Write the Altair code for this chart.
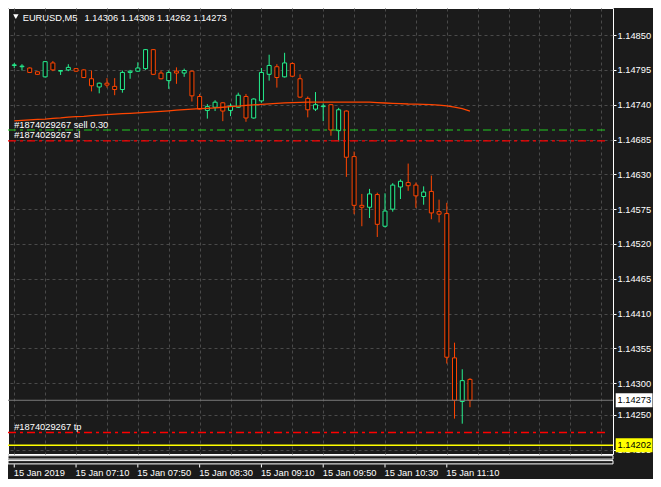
import altair as alt
import pandas as pd

# ---------------- data ----------------
symbol = "EURUSD,M5"
bar_index = list(range(60))
opens = [1.14802, 1.14800, 1.14798, 1.14792, 1.14784, 1.14806, 1.14793, 1.14795, 1.14797, 1.14795,
         1.14781, 1.14768, 1.14774, 1.14769, 1.14764, 1.14791, 1.14793, 1.14797, 1.14827, 1.14790,
         1.14778, 1.14793, 1.14790, 1.14793, 1.14753, 1.14731, 1.14736, 1.14743, 1.14731, 1.14736,
         1.14753, 1.14719, 1.14746, 1.14788, 1.14800, 1.14784, 1.14805, 1.14781, 1.14750, 1.14733,
         1.14737, 1.14740, 1.14699, 1.14730, 1.14658, 1.14581, 1.14578, 1.14598, 1.14548, 1.14575,
         1.14610, 1.14617, 1.14613, 1.14595, 1.14603, 1.14571, 1.14568, 1.14340, 1.14271, 1.14306]
highs = [1.14806, 1.14804, 1.14799, 1.14792, 1.14809, 1.14809, 1.14794, 1.14804, 1.14798, 1.14796,
         1.14794, 1.14775, 1.14782, 1.14782, 1.14794, 1.14795, 1.14807, 1.14828, 1.14828, 1.14794,
         1.14794, 1.14799, 1.14797, 1.14794, 1.14757, 1.14741, 1.14747, 1.14744, 1.14742, 1.14759,
         1.14757, 1.14750, 1.14798, 1.14819, 1.14804, 1.14822, 1.14807, 1.14788, 1.14753, 1.14760,
         1.14742, 1.14741, 1.14735, 1.14731, 1.14666, 1.14599, 1.14607, 1.14601, 1.14600, 1.14616,
         1.14622, 1.14647, 1.14617, 1.14611, 1.14628, 1.14590, 1.14585, 1.14364, 1.14322, 1.14308]
lows = [1.14798, 1.14794, 1.14790, 1.14787, 1.14783, 1.14793, 1.14787, 1.14793, 1.14792, 1.14782,
        1.14761, 1.14758, 1.14767, 1.14755, 1.14759, 1.14781, 1.14792, 1.14795, 1.14787, 1.14780,
        1.14765, 1.14773, 1.14784, 1.14745, 1.14732, 1.14718, 1.14730, 1.14714, 1.14722, 1.14735,
        1.14713, 1.14718, 1.14743, 1.14778, 1.14767, 1.14783, 1.14784, 1.14751, 1.14720, 1.14730,
        1.14714, 1.14691, 1.14682, 1.14626, 1.14567, 1.14548, 1.14561, 1.14531, 1.14546, 1.14571,
        1.14591, 1.14604, 1.14577, 1.14582, 1.14559, 1.14554, 1.14331, 1.14244, 1.14236, 1.14262]
closes = [1.14803, 1.14801, 1.14791, 1.14788, 1.14808, 1.14795, 1.14794, 1.14799, 1.14793, 1.14783,
          1.14770, 1.14774, 1.14771, 1.14764, 1.14791, 1.14793, 1.14798, 1.14827, 1.14788, 1.14781,
          1.14791, 1.14790, 1.14794, 1.14754, 1.14733, 1.14737, 1.14744, 1.14730, 1.14738, 1.14755,
          1.14719, 1.14749, 1.14791, 1.14802, 1.14783, 1.14806, 1.14785, 1.14752, 1.14732, 1.14740,
          1.14738, 1.14700, 1.14732, 1.14657, 1.14581, 1.14578, 1.14599, 1.14551, 1.14572, 1.14613,
          1.14619, 1.14612, 1.14596, 1.14602, 1.14569, 1.14567, 1.14341, 1.14273, 1.14304, 1.14273]
ma_values = [1.147145, 1.147152, 1.147160, 1.147168, 1.147173, 1.147183, 1.147191, 1.147203, 1.147211, 1.147217,
             1.147227, 1.147234, 1.147242, 1.147250, 1.147258, 1.147264, 1.147270, 1.147278, 1.147286, 1.147295,
             1.147304, 1.147313, 1.147323, 1.147331, 1.147337, 1.147343, 1.147351, 1.147360, 1.147369, 1.147379,
             1.147388, 1.147396, 1.147406, 1.147413, 1.147422, 1.147428, 1.147433, 1.147437, 1.147441, 1.147442,
             1.147442, 1.147442, 1.147442, 1.147442, 1.147442, 1.147442, 1.147441, 1.147434, 1.147427, 1.147422,
             1.147416, 1.147411, 1.147410, 1.147406, 1.147400, 1.147392, 1.147380, 1.147362, 1.147337, 1.147300]
time_label_bars = [0, 8, 16, 24, 32, 40, 48, 56]
time_labels = ["15 Jan 2019", "15 Jan 07:10", "15 Jan 07:50", "15 Jan 08:30",
               "15 Jan 09:10", "15 Jan 09:50", "15 Jan 10:30", "15 Jan 11:10"]
price_ticks = [1.14850, 1.14795, 1.14740, 1.14685, 1.14630, 1.14575, 1.14520,
               1.14465, 1.14410, 1.14355, 1.14300, 1.14250, 1.14195]
grid_bars = list(range(0, 80, 4))
order_id = "#1874029267"
order_open = 1.14700
order_sl = 1.14683
order_tp = 1.14222
hline_price = 1.14202
bid_price = 1.14273

# ---------------- style ----------------
BG = "#1b1b1b"
GRID = "#4a4a4a"
GREEN = "#25f08f"
RED = "#ff4500"
FONT = "Liberation Sans"
FS = 9.3
W, H = 605, 446          # plot frame
PAD_R, PAD_B = 40, 25    # room for price scale and time scale

xs = alt.Scale(domain=[-0.1625, 76.87], nice=False, zero=False)
ys = alt.Scale(domain=[1.141881, 1.148928], nice=False, zero=False)
x_axis = alt.Axis(values=grid_bars, grid=True, gridDash=[3, 3], gridColor=GRID, gridWidth=1,
                  labels=False, ticks=False, domain=False, title=None)
y_axis = alt.Axis(orient="right", values=price_ticks, format=".5f", grid=True, gridDash=[3, 3],
                  gridColor=GRID, gridWidth=1, tickColor="white", tickSize=3, labelPadding=1,
                  labelColor="white", labelFont=FONT, labelFontSize=FS, domain=False, title=None,
                  labelFlush=False, labelOverlap=False)

df = pd.DataFrame({"i": bar_index, "open": opens, "high": highs, "low": lows,
                   "close": closes, "ma": ma_values})
df["dir"] = ["up" if c >= o else "down" for o, c in zip(opens, closes)]
color_scale = alt.Scale(domain=["up", "down"], range=[GREEN, RED])

X = alt.X("i:Q", scale=xs, axis=x_axis)

wicks = alt.Chart(df).mark_rule(strokeWidth=1).encode(
    x=X,
    y=alt.Y("low:Q", scale=ys, axis=y_axis),
    y2="high:Q",
    color=alt.Color("dir:N", scale=color_scale, legend=None),
)
bodies = alt.Chart(df).mark_bar(width=4, strokeWidth=1).encode(
    x=X,
    y=alt.Y("open:Q", scale=ys, axis=y_axis),
    y2="close:Q",
    stroke=alt.Stroke("dir:N", scale=color_scale, legend=None),
    fill=alt.value("#0e0e0e"),
)
ma_line = alt.Chart(df).mark_line(color=RED, strokeWidth=1.3).encode(
    x=X, y=alt.Y("ma:Q", scale=ys, axis=y_axis)
)

one = pd.DataFrame({"k": [0]})


def hline(price, color, width, dash=None, x2=W):
    d = pd.DataFrame({"p": [price]})
    kw = dict(color=color, strokeWidth=width)
    if dash is not None:
        kw["strokeDash"] = dash
    return alt.Chart(d).mark_rule(**kw).encode(
        x=alt.value(0), x2=alt.value(x2), y=alt.Y("p:Q", scale=ys, axis=y_axis)
    )


open_line = hline(order_open, "#22cc22", 1.2, [8, 4, 3, 4], 598.8)
sl_line = hline(order_sl, "#ff0000", 1.2, [8, 4, 3, 4], 598.8)
tp_line = hline(order_tp, "#ff0000", 1.6, [8, 4, 3, 4], 598.8)
bid_line = hline(bid_price, "#7a7a7a", 1)
yellow_line = hline(hline_price, "#ffff00", 1.6)

lbl_df = pd.DataFrame({
    "p": [order_open, order_sl, order_tp],
    "t": [order_id + " sell 0.30", order_id + " sl", order_id + " tp"],
})
order_labels = alt.Chart(lbl_df).mark_text(
    align="left", baseline="alphabetic", dy=-2.5, color="white", font=FONT, fontSize=FS
).encode(x=alt.value(6.2), y=alt.Y("p:Q", scale=ys, axis=y_axis), text="t:N")

box_df = pd.DataFrame({
    "p": [bid_price, hline_price],
    "t": [f"{bid_price:.5f}", f"{hline_price:.5f}"],
    "c": ["white", "yellow"],
})
boxes = alt.Chart(box_df).mark_rect(yOffset=-7, y2Offset=7).encode(
    x=alt.value(607.7), x2=alt.value(644.5),
    y=alt.Y("p:Q", scale=ys, axis=y_axis), y2="p:Q",
    fill=alt.Fill("c:N", scale=alt.Scale(domain=["white", "yellow"], range=["#ffffff", "#ffff00"]), legend=None),
)
box_text = alt.Chart(box_df).mark_text(
    align="left", baseline="middle", color="black", font=FONT, fontSize=FS
).encode(x=alt.value(609.5), y=alt.Y("p:Q", scale=ys, axis=y_axis), text="t:N")

sub1 = alt.Chart(one).mark_rect(fill=BG, stroke="white", strokeWidth=1).encode(
    x=alt.value(0), x2=alt.value(W), y=alt.value(447.7), y2=alt.value(451.1)
)
sub2 = alt.Chart(one).mark_rect(fill=BG, stroke="white", strokeWidth=1).encode(
    x=alt.value(0), x2=alt.value(W), y=alt.value(452.6), y2=alt.value(455.9)
)

tl_df = pd.DataFrame({"i": time_label_bars, "t": time_labels})
time_ticks = alt.Chart(tl_df).mark_rule(color="white", strokeWidth=1).encode(
    x=X, y=alt.value(456.3), y2=alt.value(459.5)
)
time_text = alt.Chart(tl_df).mark_text(
    align="left", baseline="middle", dx=-0.5, color="white", font=FONT, fontSize=FS
).encode(x=X, y=alt.value(465.0), text="t:N")

triangle = alt.Chart(one).mark_point(shape="triangle-down", filled=True, size=30, color="white", opacity=1).encode(
    x=alt.value(7.85), y=alt.value(8.6)
)
header_sym = alt.Chart(one).mark_text(
    align="left", baseline="alphabetic", color="white", font=FONT, fontSize=FS, text=symbol
).encode(x=alt.value(14.7), y=alt.value(12.6))
ohlc_text = f"{opens[-1]:.5f} {highs[-1]:.5f} {lows[-1]:.5f} {closes[-1]:.5f}"
header_ohlc = alt.Chart(one).mark_text(
    align="left", baseline="alphabetic", color="white", font=FONT, fontSize=FS, text=ohlc_text
).encode(x=alt.value(76.6), y=alt.value(12.6))

chart = alt.layer(
    wicks, bodies, ma_line, bid_line, yellow_line, open_line, sl_line, tp_line,
    order_labels, boxes, box_text, sub1, sub2, time_ticks, time_text,
    triangle, header_sym, header_ohlc,
).properties(
    width=W, height=H, background=BG,
    padding={"left": 0, "top": 0, "right": PAD_R, "bottom": PAD_B},
    autosize=alt.AutoSizeParams(type="none"),
).configure_view(
    stroke="white", strokeWidth=1
)

chart.save("out.html", embed_options={"renderer": "svg", "actions": False})
